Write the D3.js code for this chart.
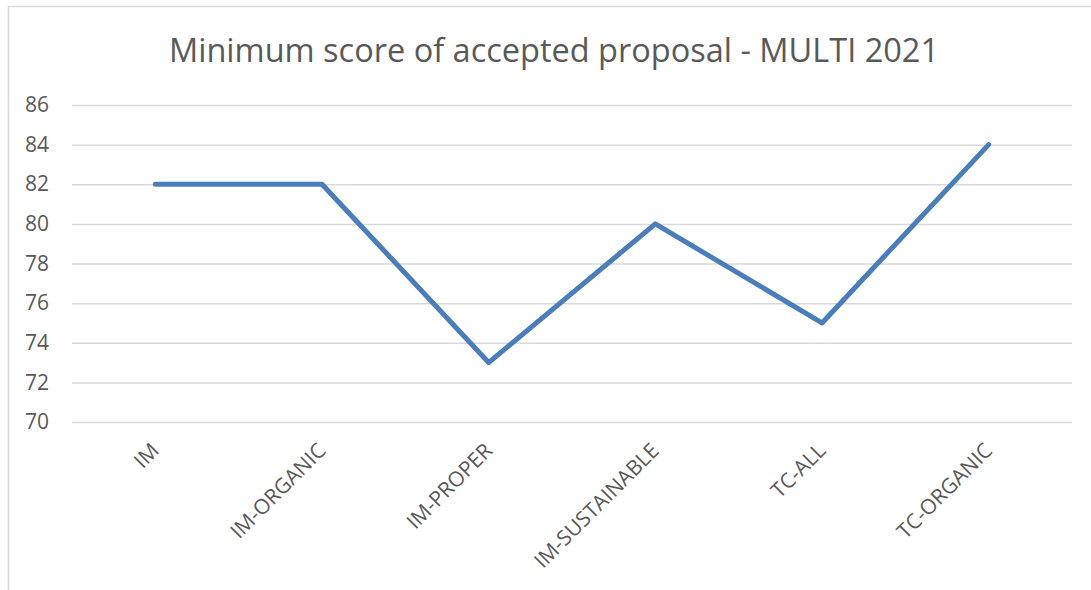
<!DOCTYPE html>
<html>
<head>
<meta charset="utf-8">
<script src="https://cdn.jsdelivr.net/npm/d3@7"></script>
<style>
  body { margin: 0; background: #fff; }
  svg { display: block; font-family: "Open Sans", sans-serif; }
  .grid line { stroke: #d9d9d9; stroke-width: 1.5; }
  .tick text { fill: #595959; font-family: "Open Sans", sans-serif; }
</style>
</head>
<body>
<svg width="1091" height="590"></svg>
<script>
// chart data
const categories = ['IM', 'IM-ORGANIC', 'IM-PROPER', 'IM-SUSTAINABLE', 'TC-ALL', 'TC-ORGANIC'];
const scores = [82, 82, 73, 80, 75, 84];
const yTicks = [70, 72, 74, 76, 78, 80, 82, 84, 86];
const title = 'Minimum score of accepted proposal - MULTI 2021';

const svg = d3.select('svg');
const width = 1091;
const height = 590;

// chart frame (only left and top edges show in the picture)
svg.append('rect')
  .attr('x', 8.5)
  .attr('y', 6.5)
  .attr('width', width + 20)
  .attr('height', height + 20)
  .attr('fill', '#fff')
  .attr('stroke', '#d9d9d9')
  .attr('stroke-width', 1.5);

const x = d3.scaleBand()
  .domain(categories)
  .range([72, 1072]);

const y = d3.scaleLinear()
  .domain([70, 86])
  .range([422, 105]);

// title
svg.append('text')
  .attr('x', 554)
  .attr('y', 62)
  .attr('text-anchor', 'middle')
  .attr('fill', '#595959')
  .style('font-size', '32.5px')
  .text(title);

// gridlines + y labels
const yAxis = svg.append('g')
  .attr('class', 'grid')
  .attr('transform', 'translate(72,0)')
  .call(d3.axisLeft(y).tickValues(yTicks).tickSize(-1000).tickPadding(23));
yAxis.select('.domain').remove();
yAxis.selectAll('.tick text').style('font-size', '21px');

// x labels, rotated
const xAxis = svg.append('g')
  .attr('transform', 'translate(0,422)')
  .call(d3.axisBottom(x).tickSize(0).tickPadding(0));
xAxis.select('.domain').remove();
xAxis.selectAll('.tick text')
  .style('font-size', '21px')
  .attr('text-anchor', 'end')
  .attr('dy', null)
  .attr('y', 0)
  .attr('transform', 'translate(5,30) rotate(-45)');

// the line
const line = d3.line()
  .x((d, i) => x(categories[i]) + x.bandwidth() / 2)
  .y(d => y(d));

svg.append('path')
  .datum(scores)
  .attr('d', line)
  .attr('fill', 'none')
  .attr('stroke', '#4a7ebb')
  .attr('stroke-width', 5)
  .attr('stroke-linecap', 'round')
  .attr('stroke-linejoin', 'round');
</script>
</body>
</html>
